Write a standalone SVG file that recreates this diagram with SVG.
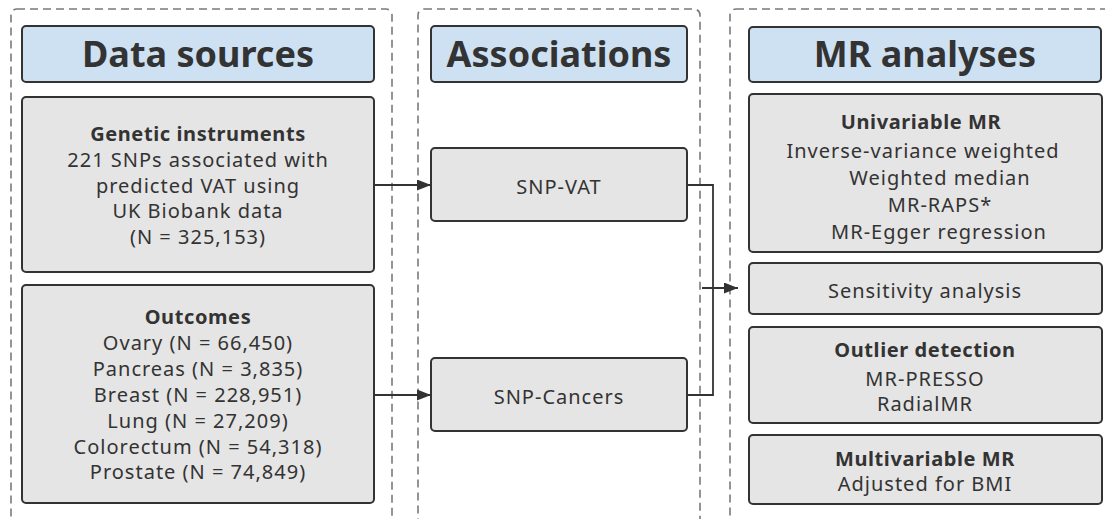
<svg xmlns="http://www.w3.org/2000/svg" width="1105" height="519" viewBox="0 0 1105 519">
<defs>
<style>
.panel{fill:none;stroke:#7a7a7a;stroke-width:1.6;stroke-dasharray:8 5}
.hdr{fill:#cde1f3;stroke:#333;stroke-width:2}
.box{fill:#e5e5e5;stroke:#333;stroke-width:2}
.ht{font-family:"Noto Sans",sans-serif;font-weight:bold;font-size:36px;fill:#333;text-anchor:middle}
.t{font-family:"Noto Sans",sans-serif;font-size:20px;letter-spacing:1px;fill:#333;text-anchor:middle}
.b{font-weight:bold;letter-spacing:0.6px}
.c{fill:none;stroke:#333;stroke-width:1.8}
</style>
<marker id="arr" markerWidth="14" markerHeight="11" refX="14" refY="5.5" orient="auto" markerUnits="userSpaceOnUse">
<path d="M0,0 L14,5.5 L0,11 Z" fill="#333"/>
</marker>
</defs>
<rect width="1105" height="519" fill="#fff"/>
<g id="panels">
<rect class="panel" x="11" y="9" width="381" height="530" rx="6"/>
<rect class="panel" x="418" y="9" width="282" height="530" rx="6"/>
<rect class="panel" x="730" y="9" width="400" height="530" rx="6"/>
</g>
<g id="hdr-data"><rect class="hdr" x="22" y="26" width="352" height="56" rx="4"/><text class="ht" x="198" y="67">Data sources</text></g>
<g id="hdr-assoc"><rect class="hdr" x="431" y="26" width="256" height="56" rx="4"/><text class="ht" x="559" y="67">Associations</text></g>
<g id="hdr-mr"><rect class="hdr" x="749" y="27" width="352" height="55" rx="4"/><text class="ht" x="925" y="67">MR analyses</text></g>
<g id="genetic"><rect class="box" x="22" y="97" width="352" height="175" rx="4"/>
<text class="t"><tspan class="b" x="198" y="141">Genetic instruments</tspan><tspan x="198" y="167">221 SNPs associated with</tspan><tspan x="198" y="193">predicted VAT using</tspan><tspan x="198" y="218">UK Biobank data</tspan><tspan x="198" y="244">(N = 325,153)</tspan></text></g>
<g id="outcomes"><rect class="box" x="22" y="285" width="352" height="218" rx="4"/>
<text class="t"><tspan class="b" x="198" y="324">Outcomes</tspan><tspan x="198" y="350">Ovary (N = 66,450)</tspan><tspan x="198" y="376">Pancreas (N = 3,835)</tspan><tspan x="198" y="402">Breast (N = 228,951)</tspan><tspan x="198" y="428">Lung (N = 27,209)</tspan><tspan x="198" y="454">Colorectum (N = 54,318)</tspan><tspan x="198" y="479">Prostate (N = 74,849)</tspan></text></g>
<g id="snp-vat"><rect class="box" x="431" y="148" width="256" height="73" rx="4"/><text class="t" x="559" y="194">SNP-VAT</text></g>
<g id="snp-cancers"><rect class="box" x="431" y="358" width="256" height="73" rx="4"/><text class="t" x="559" y="404">SNP-Cancers</text></g>
<g id="univariable"><rect class="box" x="749" y="94" width="353" height="158" rx="4"/>
<text class="t"><tspan class="b" x="921" y="129">Univariable MR</tspan><tspan x="923" y="158">Inverse-variance weighted</tspan><tspan x="940" y="185">Weighted median</tspan><tspan x="940" y="212">MR-RAPS*</tspan><tspan x="939" y="239">MR-Egger regression</tspan></text></g>
<g id="sensitivity"><rect class="box" x="749" y="263" width="353" height="51" rx="4"/><text class="t" x="925" y="298">Sensitivity analysis</text></g>
<g id="outlier"><rect class="box" x="749" y="327" width="353" height="96" rx="4"/>
<text class="t"><tspan class="b" x="925" y="357">Outlier detection</tspan><tspan x="925" y="386">MR-PRESSO</tspan><tspan x="925" y="411">RadialMR</tspan></text></g>
<g id="multivariable"><rect class="box" x="749" y="435" width="353" height="69" rx="4"/>
<text class="t"><tspan class="b" x="925" y="466">Multivariable MR</tspan><tspan x="925" y="491">Adjusted for BMI</tspan></text></g>
<g id="connectors">
<line class="c" x1="374" y1="185" x2="431" y2="185" marker-end="url(#arr)"/>
<line class="c" x1="374" y1="395" x2="431" y2="395" marker-end="url(#arr)"/>
<polyline class="c" points="687,185 713,185 713,395 687,395"/>
<line class="c" x1="702" y1="288" x2="738" y2="288" marker-end="url(#arr)"/>
</g>
</svg>
